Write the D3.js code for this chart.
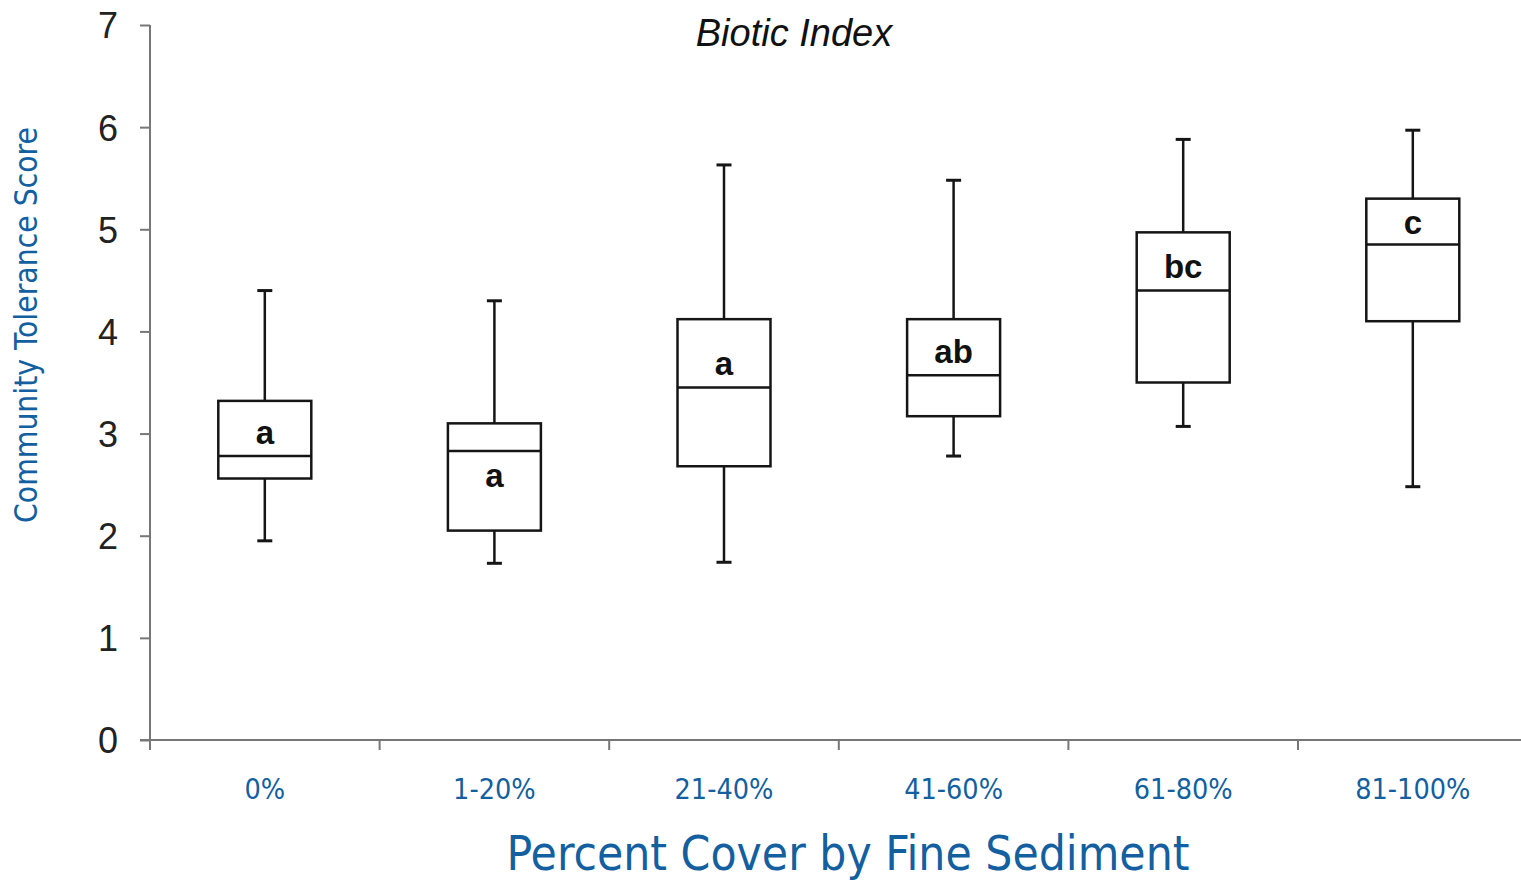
<!DOCTYPE html>
<html>
<head>
<meta charset="utf-8">
<script src="https://cdn.jsdelivr.net/npm/d3@7"></script>
<style>
  body { margin: 0; background: #fff; }
  svg { display: block; }
</style>
</head>
<body>
<div id="chart"></div>
<script>
(function(){
    "use strict";

    // data
    var categories = ['0%', '1-20%', '21-40%', '41-60%', '61-80%', '81-100%'];
    var whiskerLow = [1.95, 1.73, 1.74, 2.78, 3.07, 2.48];
    var q1Values = [2.56, 2.05, 2.68, 3.17, 3.50, 4.10];
    var medians = [2.78, 2.83, 3.45, 3.57, 4.40, 4.85];
    var q3Values = [3.32, 3.10, 4.12, 4.12, 4.97, 5.30];
    var whiskerHigh = [4.40, 4.30, 5.63, 5.48, 5.88, 5.97];
    var groupLetters = ['a', 'a', 'a', 'ab', 'bc', 'c'];
    var yTicks = [0, 1, 2, 3, 4, 5, 6, 7];

    var width = 1521, height = 881;
    var blue = '#135f9f';

    var svg = d3.select('#chart').append('svg')
        .attr('width', width)
        .attr('height', height);

    var x = d3.scaleBand()
        .domain(categories)
        .range([150, 1527.6])
        .padding(0);

    var y = d3.scaleLinear()
        .domain([0, 7])
        .range([740, 25]);

    var rows = categories.map(function(c, i){
        return {
            cat: c,
            low: whiskerLow[i],
            q1: q1Values[i],
            med: medians[i],
            q3: q3Values[i],
            high: whiskerHigh[i],
            letter: groupLetters[i]
        };
    });

    //y axis
    var yAxis = svg.append('g')
        .attr('transform', 'translate(150,0)')
        .call(d3.axisLeft(y).tickValues(yTicks).tickSize(10).tickPadding(22).tickFormat(d3.format('d')));
    yAxis.select('.domain').remove();
    yAxis.selectAll('line').attr('stroke', '#777').attr('stroke-width', 2);
    yAxis.selectAll('text')
        .attr('fill', '#222')
        .style('font-family', 'Liberation Sans, Arial, sans-serif')
        .style('font-size', '36px')
        .attr('dy', '0.36em');
    svg.append('line')
        .attr('x1', 150).attr('x2', 150)
        .attr('y1', y(7)).attr('y2', y(0) + 10)
        .attr('stroke', '#777').attr('stroke-width', 2);

    //x axis
    svg.append('line')
        .attr('x1', 140).attr('x2', width)
        .attr('y1', y(0)).attr('y2', y(0))
        .attr('stroke', '#777').attr('stroke-width', 2);
    svg.append('g').selectAll('line')
        .data(categories.slice(1))
        .enter().append('line')
        .attr('x1', function(d){ return x(d); })
        .attr('x2', function(d){ return x(d); })
        .attr('y1', y(0)).attr('y2', y(0) + 10)
        .attr('stroke', '#777').attr('stroke-width', 2);

    svg.append('g').selectAll('text')
        .data(categories)
        .enter().append('text')
        .attr('x', function(d){ return x(d) + x.bandwidth() / 2; })
        .attr('y', 799)
        .attr('text-anchor', 'middle')
        .attr('fill', blue)
        .style('font-family', 'DejaVu Sans, sans-serif')
        .style('font-stretch', 'condensed')
        .style('font-size', '28.5px')
        .text(function(d){ return d; });

    //boxes
    var boxW = x.bandwidth() * 0.405;
    var capW = 15;
    var stroke = '#151515';
    var g = svg.append('g').selectAll('g')
        .data(rows)
        .enter().append('g')
        .attr('transform', function(d){ return 'translate(' + (x(d.cat) + x.bandwidth() / 2) + ',0)'; });

    g.append('line')
        .attr('x1', 0).attr('x2', 0)
        .attr('y1', function(d){ return y(d.high); })
        .attr('y2', function(d){ return y(d.q3); })
        .attr('stroke', stroke).attr('stroke-width', 2.5);
    g.append('line')
        .attr('x1', 0).attr('x2', 0)
        .attr('y1', function(d){ return y(d.q1); })
        .attr('y2', function(d){ return y(d.low); })
        .attr('stroke', stroke).attr('stroke-width', 2.5);
    g.append('line')
        .attr('x1', -capW / 2).attr('x2', capW / 2)
        .attr('y1', function(d){ return y(d.high); })
        .attr('y2', function(d){ return y(d.high); })
        .attr('stroke', stroke).attr('stroke-width', 3);
    g.append('line')
        .attr('x1', -capW / 2).attr('x2', capW / 2)
        .attr('y1', function(d){ return y(d.low); })
        .attr('y2', function(d){ return y(d.low); })
        .attr('stroke', stroke).attr('stroke-width', 3);
    g.append('rect')
        .attr('x', -boxW / 2)
        .attr('width', boxW)
        .attr('y', function(d){ return y(d.q3); })
        .attr('height', function(d){ return y(d.q1) - y(d.q3); })
        .attr('fill', '#fff')
        .attr('stroke', stroke).attr('stroke-width', 2.5);
    g.append('line')
        .attr('x1', -boxW / 2).attr('x2', boxW / 2)
        .attr('y1', function(d){ return y(d.med); })
        .attr('y2', function(d){ return y(d.med); })
        .attr('stroke', stroke).attr('stroke-width', 2.5);

    //significance letters, placed in the roomier half near the median
    g.append('text')
        .attr('text-anchor', 'middle')
        .attr('dy', '0.36em')
        .attr('y', function(d){
            var up = (d.q3 - d.med) >= 0.4;
            var mid = up ? y((d.med + d.q3) / 2) : y((d.med + d.q1) / 2);
            var off = Math.min(Math.abs(mid - y(d.med)), 24);
            return up ? y(d.med) - off : y(d.med) + off;
        })
        .attr('fill', '#111')
        .style('font-family', 'Liberation Sans, Arial, sans-serif')
        .style('font-weight', 'bold')
        .style('font-size', '33px')
        .text(function(d){ return d.letter; });

    //titles
    svg.append('text')
        .attr('x', 794).attr('y', 46)
        .attr('text-anchor', 'middle')
        .attr('fill', '#111')
        .style('font-family', 'Liberation Sans, Arial, sans-serif')
        .style('font-style', 'italic')
        .style('font-size', '38px')
        .text('Biotic Index');

    svg.append('text')
        .attr('x', 848).attr('y', 870)
        .attr('text-anchor', 'middle')
        .attr('fill', blue)
        .style('font-family', 'DejaVu Sans, sans-serif')
        .style('font-stretch', 'condensed')
        .style('font-size', '47.5px')
        .text('Percent Cover by Fine Sediment');

    svg.append('text')
        .attr('transform', 'translate(37,325) rotate(-90)')
        .attr('text-anchor', 'middle')
        .attr('fill', blue)
        .style('font-family', 'DejaVu Sans, sans-serif')
        .style('font-stretch', 'condensed')
        .style('font-size', '31.5px')
        .text('Community Tolerance Score');
})();
</script>
</body>
</html>
